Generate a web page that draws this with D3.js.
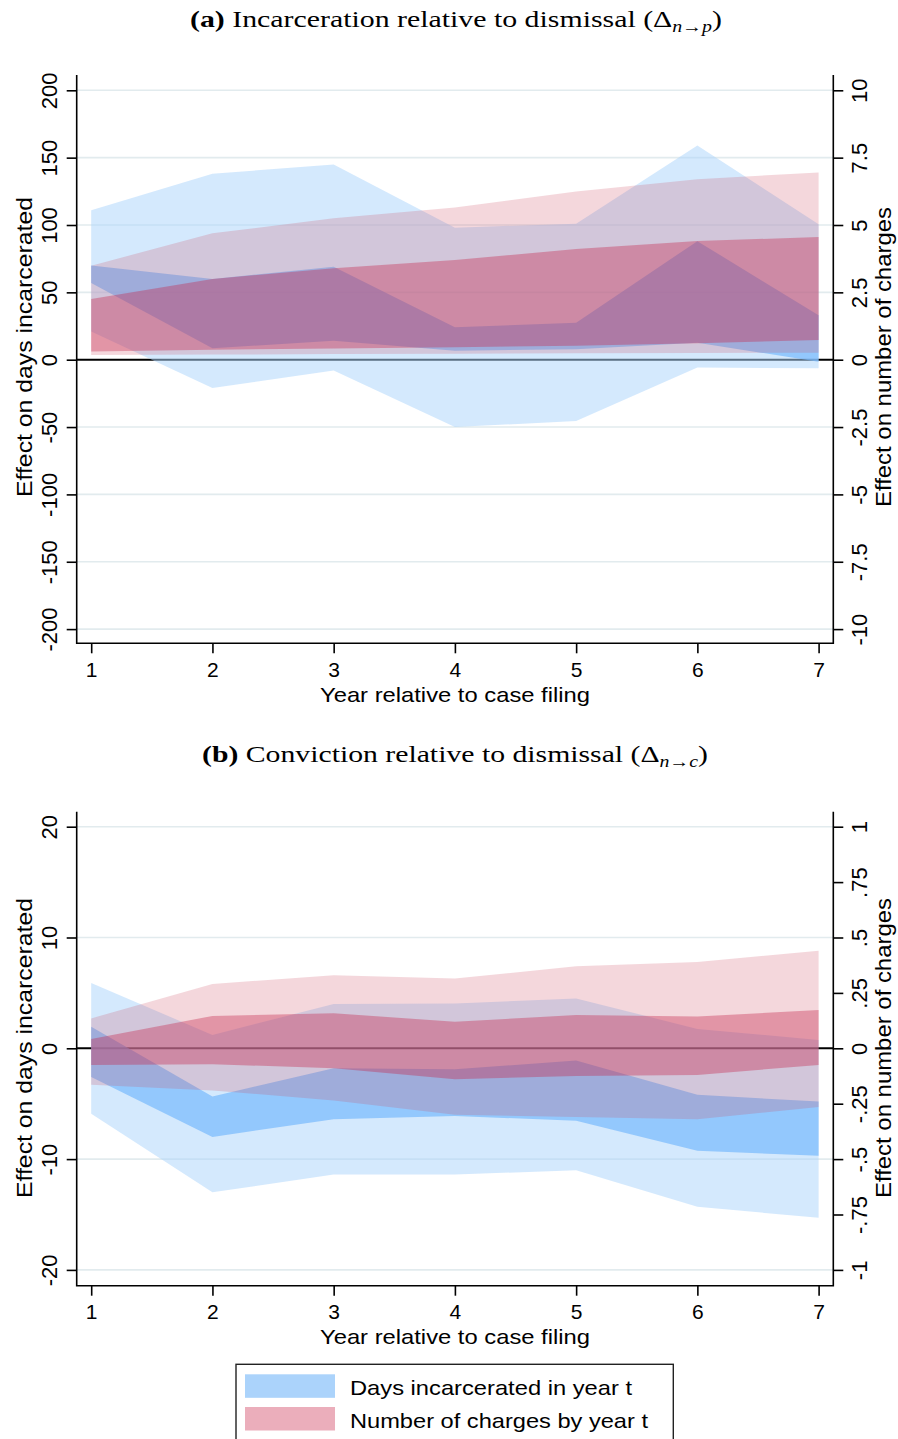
<!DOCTYPE html>
<html>
<head>
<meta charset="utf-8">
<script src="https://cdn.jsdelivr.net/npm/d3@7"></script>
<style>
  html, body { margin: 0; padding: 0; background: #fff; }
  svg { display: block; }
  .sans { font-family: "Liberation Sans", Arial, Helvetica, sans-serif; fill: #000; }
  .serif { font-family: "Liberation Serif", "Times New Roman", serif; fill: #000; }
</style>
</head>
<body>
<svg id="chart" width="898" height="1439"></svg>
<script>
// Years relative to case filing
const years = [1, 2, 3, 4, 5, 6, 7];

// Panel (a): incarceration relative to dismissal
// Days incarcerated in year t (outer and inner bands)
const aDaysOuterHi = [111, 138, 145, 98, 101, 159, 100.5];
const aDaysOuterLo = [21, -21, -8, -50, -45.5, -5.7, -6.4];
const aDaysInnerHi = [70, 60, 69, 24, 27.5, 88, 33];
const aDaysInnerLo = [57, 8.5, 14, 6.7, 7.7, 12.6, -1.5];
// Number of charges by year t (outer and inner bands)
const aChgOuterHi = [3.49, 4.69, 5.25, 5.65, 6.24, 6.70, 6.95];
const aChgOuterLo = [0.17, 0.19, 0.21, 0.22, 0.24, 0.25, 0.26];
const aChgInnerHi = [2.25, 3.0, 3.39, 3.7, 4.11, 4.41, 4.55];
const aChgInnerLo = [0.30, 0.37, 0.42, 0.46, 0.52, 0.61, 0.73];

// Panel (b): conviction relative to dismissal
const bDaysOuterHi = [5.9, 1.2, 4.0, 4.05, 4.5, 1.75, 0.75];
const bDaysOuterLo = [-5.9, -13.0, -11.4, -11.4, -11.0, -14.3, -15.3];
const bDaysInnerHi = [1.95, -4.35, -1.8, -1.9, -1.1, -4.2, -4.8];
const bDaysInnerLo = [-2.6, -8.0, -6.4, -6.1, -6.55, -9.25, -9.7];
const bChgOuterHi = [0.135, 0.29, 0.33, 0.315, 0.37, 0.39, 0.44];
const bChgOuterLo = [-0.165, -0.19, -0.235, -0.30, -0.31, -0.32, -0.265];
const bChgInnerHi = [0.042, 0.146, 0.158, 0.12, 0.15, 0.143, 0.173];
const bChgInnerLo = [-0.075, -0.072, -0.09, -0.14, -0.125, -0.12, -0.075];

// Tick values and labels
const aLeftTicks = [200, 150, 100, 50, 0, -50, -100, -150, -200];
const aRightTicks = [10, 7.5, 5, 2.5, 0, -2.5, -5, -7.5, -10];
const aRightLabels = ["10", "7.5", "5", "2.5", "0", "-2.5", "-5", "-7.5", "-10"];
const bLeftTicks = [20, 10, 0, -10, -20];
const bRightTicks = [1, 0.75, 0.5, 0.25, 0, -0.25, -0.5, -0.75, -1];
const bRightLabels = ["1", ".75", ".5", ".25", "0", "-.25", "-.5", "-.75", "-1"];

const legendLabels = ["Days incarcerated in year t", "Number of charges by year t"];

const svg = d3.select("#chart");

const colors = {
  daysOuter: "rgba(172,212,252,0.52)",
  daysInner: "rgba(120,185,252,0.70)",
  chgOuter: "rgba(205,73,96,0.22)",
  chgInner: "rgba(197,41,78,0.38)",
  grid: "#e2ebee",
  swatchDays: "#abd3fb",
  swatchChg: "#ebaebb"
};

// plain hyphen for negative numbers
const fmtInt = d => String(d);

const plotLeft = 76.7, plotRight = 833.3;
const x = d3.scaleLinear().domain([1, 7]).range([91.2, 818.6]);

function title(text, sub, top, left, width, label) {
  const t = svg.append("text").attr("class", "serif")
    .attr("x", left).attr("y", top)
    .attr("font-size", 24)
    .attr("textLength", width).attr("lengthAdjust", "spacingAndGlyphs");
  t.append("tspan").attr("font-weight", "bold").text(label);
  t.append("tspan").text(" " + text + " (\u0394");
  t.append("tspan").attr("font-style", "italic").attr("font-size", 16).attr("dy", 5).text(sub);
  t.append("tspan").attr("dy", -5).text(")");
}

function panel(cfg) {
  const g = svg.append("g");
  const yL = d3.scaleLinear().domain(cfg.leftDomain).range([cfg.yBottomTick, cfg.yTopTick]);
  const yR = d3.scaleLinear().domain(cfg.rightDomain).range([cfg.yBottomTick, cfg.yTopTick]);

  // grid lines at the left-axis ticks
  g.append("g").selectAll("line")
    .data(cfg.leftTicks.filter(v => v !== 0))
    .join("line")
    .attr("x1", plotLeft).attr("x2", plotRight)
    .attr("y1", d => yL(d)).attr("y2", d => yL(d))
    .attr("stroke", colors.grid).attr("stroke-width", 1.6);

  // zero reference line
  g.append("line")
    .attr("x1", plotLeft).attr("x2", plotRight)
    .attr("y1", yL(0)).attr("y2", yL(0))
    .attr("stroke", "#000").attr("stroke-width", 2);

  const band = (lo, hi, scale) => d3.area()
    .x((d, i) => x(years[i]))
    .y0((d, i) => scale(lo[i]))
    .y1((d, i) => scale(hi[i]))(years);

  g.append("path").attr("d", band(cfg.daysOuterLo, cfg.daysOuterHi, yL)).attr("fill", colors.daysOuter);
  g.append("path").attr("d", band(cfg.daysInnerLo, cfg.daysInnerHi, yL)).attr("fill", colors.daysInner);
  g.append("path").attr("d", band(cfg.chgOuterLo, cfg.chgOuterHi, yR)).attr("fill", colors.chgOuter);
  g.append("path").attr("d", band(cfg.chgInnerLo, cfg.chgInnerHi, yR)).attr("fill", colors.chgInner);

  // left axis
  const leftAxis = d3.axisLeft(yL).tickValues(cfg.leftTicks).tickSize(10).tickSizeOuter(0)
    .tickFormat(fmtInt);
  const la = g.append("g").attr("transform", `translate(${plotLeft},0)`).call(leftAxis);
  la.select(".domain").remove();
  la.selectAll(".tick line").attr("stroke", "#000").attr("stroke-width", 1.6);
  la.selectAll(".tick text")
    .attr("class", "sans").attr("font-size", 22)
    .attr("text-anchor", "middle").attr("dy", 0)
    .attr("x", 0).attr("y", -19.5)
    .attr("transform", "rotate(-90)");

  // right axis
  const rightAxis = d3.axisRight(yR).tickValues(cfg.rightTicks).tickSize(10).tickSizeOuter(0)
    .tickFormat((d, i) => cfg.rightLabels[i]);
  const ra = g.append("g").attr("transform", `translate(${plotRight},0)`).call(rightAxis);
  ra.select(".domain").remove();
  ra.selectAll(".tick line").attr("stroke", "#000").attr("stroke-width", 1.6);
  ra.selectAll(".tick text")
    .attr("class", "sans").attr("font-size", 22)
    .attr("text-anchor", "middle").attr("dy", 0)
    .attr("x", 0).attr("y", 33.5)
    .attr("transform", "rotate(-90)");

  // bottom axis
  const bottomAxis = d3.axisBottom(x).tickValues(years).tickSize(10).tickSizeOuter(0)
    .tickFormat(fmtInt);
  const ba = g.append("g").attr("transform", `translate(0,${cfg.plotBottom})`).call(bottomAxis);
  ba.select(".domain").remove();
  ba.selectAll(".tick line").attr("stroke", "#000").attr("stroke-width", 1.6);
  ba.selectAll(".tick text")
    .attr("class", "sans").attr("font-size", 21)
    .attr("dy", 0).attr("y", 33.5);

  // frame lines (left, right, bottom)
  g.append("path")
    .attr("d", `M${plotLeft},${cfg.plotTop}V${cfg.plotBottom}H${plotRight}V${cfg.plotTop}`)
    .attr("fill", "none").attr("stroke", "#000").attr("stroke-width", 1.6);

  // axis titles
  g.append("text").attr("class", "sans")
    .attr("font-size", 22).attr("text-anchor", "middle")
    .attr("textLength", 300).attr("lengthAdjust", "spacingAndGlyphs")
    .attr("transform", `translate(32,${cfg.leftTitleY}) rotate(-90)`)
    .text("Effect on days incarcerated");
  g.append("text").attr("class", "sans")
    .attr("font-size", 22).attr("text-anchor", "middle")
    .attr("textLength", 300).attr("lengthAdjust", "spacingAndGlyphs")
    .attr("transform", `translate(891,${cfg.rightTitleY}) rotate(-90)`)
    .text("Effect on number of charges");
  g.append("text").attr("class", "sans")
    .attr("font-size", 21).attr("text-anchor", "middle")
    .attr("textLength", 270).attr("lengthAdjust", "spacingAndGlyphs")
    .attr("x", 455).attr("y", cfg.plotBottom + 58.3)
    .text("Year relative to case filing");
}

title("Incarceration relative to dismissal", "n\u2192p", 27, 190, 532, "(a)");
panel({
  leftDomain: [-200, 200], rightDomain: [-10, 10],
  yTopTick: 90.3, yBottomTick: 629.1, plotTop: 75, plotBottom: 643.3,
  leftTicks: aLeftTicks, rightTicks: aRightTicks, rightLabels: aRightLabels,
  daysOuterLo: aDaysOuterLo, daysOuterHi: aDaysOuterHi,
  daysInnerLo: aDaysInnerLo, daysInnerHi: aDaysInnerHi,
  chgOuterLo: aChgOuterLo, chgOuterHi: aChgOuterHi,
  chgInnerLo: aChgInnerLo, chgInnerHi: aChgInnerHi,
  leftTitleY: 347, rightTitleY: 357
});

title("Conviction relative to dismissal", "n\u2192c", 762, 202, 506, "(b)");
panel({
  leftDomain: [-20, 20], rightDomain: [-1, 1],
  yTopTick: 826.7, yBottomTick: 1269.9, plotTop: 811.7, plotBottom: 1285.7,
  leftTicks: bLeftTicks, rightTicks: bRightTicks, rightLabels: bRightLabels,
  daysOuterLo: bDaysOuterLo, daysOuterHi: bDaysOuterHi,
  daysInnerLo: bDaysInnerLo, daysInnerHi: bDaysInnerHi,
  chgOuterLo: bChgOuterLo, chgOuterHi: bChgOuterHi,
  chgInnerLo: bChgInnerLo, chgInnerHi: bChgInnerHi,
  leftTitleY: 1048, rightTitleY: 1048
});

// legend
const lg = svg.append("g");
lg.append("rect").attr("x", 236).attr("y", 1364.3).attr("width", 437.3).attr("height", 90)
  .attr("fill", "#fff").attr("stroke", "#222").attr("stroke-width", 1.4);
const swatches = [colors.swatchDays, colors.swatchChg];
const rowY = [1374.3, 1407];
legendLabels.forEach((lab, i) => {
  lg.append("rect").attr("x", 245).attr("y", rowY[i]).attr("width", 90).attr("height", 23.5)
    .attr("fill", swatches[i]);
  lg.append("text").attr("class", "sans").attr("font-size", 21)
    .attr("x", 350).attr("y", rowY[i] + 21)
    .attr("textLength", i === 0 ? 282 : 298).attr("lengthAdjust", "spacingAndGlyphs")
    .text(lab);
});
</script>
</body>
</html>
